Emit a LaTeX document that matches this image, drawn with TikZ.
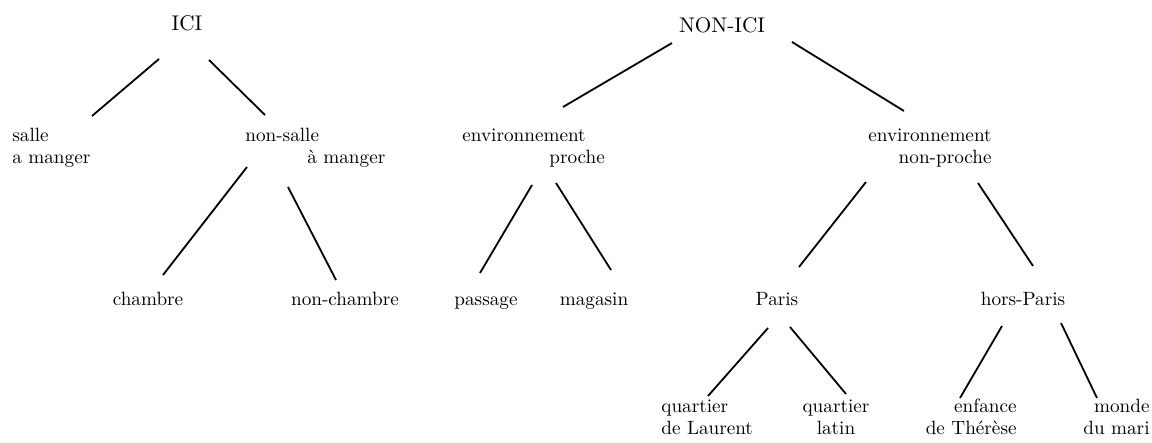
\documentclass[tikz,border=0pt]{standalone}
\usepackage{fontspec}
\usepackage{tikz}
\usetikzlibrary{calc}

\begin{document}
\begin{tikzpicture}[x=0.5pt,y=-0.5pt]
\tikzstyle{rootnode}=[inner sep=0pt,font=\fontsize{10.6}{12}\selectfont]
\tikzstyle{catnode}=[inner sep=0pt,font=\fontsize{9.6}{11}\selectfont]
\tikzstyle{branch}=[line width=0.9pt]
\useasboundingbox (0,0) rectangle (1152,443);
% roots
\node[rootnode,anchor=base] (ici) at (187,31) {ICI};
\node[rootnode,anchor=base] (nonici) at (722,33) {NON-ICI};
% second level (base = last line)
\node[catnode,anchor=base west,align=left] (salle) at (12,164) {salle\\a manger};
\node[catnode,anchor=base west,align=left] (nonsalle) at (245,164) {non-salle\\\hspace*{31pt}à manger};
\node[catnode,anchor=base west,align=left] (envp) at (462,164) {environnement\\\hspace*{43.5pt}proche};
\node[catnode,anchor=base east,align=right] (envnp) at (992,164) {environnement\\non-proche};
% third level
\node[catnode,anchor=base] (chambre) at (148,306) {chambre};
\node[catnode,anchor=base] (nonchambre) at (345,306) {non-chambre};
\node[catnode,anchor=base] (passage) at (486,306) {passage};
\node[catnode,anchor=base] (magasin) at (594,306) {magasin};
\node[catnode,anchor=base] (paris) at (777,306) {Paris};
\node[catnode,anchor=base] (horsparis) at (1023,306) {hors-Paris};
% fourth level
\node[catnode,anchor=base west,align=left] (qlaurent) at (661,435) {quartier\\de Laurent};
\node[catnode,anchor=base,align=center] (qlatin) at (836,435) {quartier\\latin};
\node[catnode,anchor=base east,align=right] (enfance) at (1017,435) {enfance\\de Thérèse};
\node[catnode,anchor=base east,align=right] (monde) at (1150,435) {monde\\du mari};
% branches
\draw[branch] ($(ici.base)+(-28,28)$) -- ($(salle.base west)+(80,-48)$);
\draw[branch] ($(ici.base)+(22,29)$) -- ($(nonsalle.base west)+(20,-49)$);
\draw[branch] ($(nonsalle.base west)+(2,3)$) -- ($(chambre.base)+(15,-31)$);
\draw[branch] ($(nonsalle.base west)+(43,23)$) -- ($(nonchambre.base)+(-9,-26)$);
\draw[branch] ($(nonici.base)+(-50,10)$) -- ($(envp.base west)+(101,-57)$);
\draw[branch] ($(nonici.base)+(70,9)$) -- ($(envnp.base east)+(-88,-53)$);
\draw[branch] ($(envp.base west)+(70,21)$) -- ($(passage.base)+(-6,-33)$);
\draw[branch] ($(envp.base west)+(94,19)$) -- ($(magasin.base)+(17,-36)$);
\draw[branch] ($(envnp.base east)+(-126,18)$) -- ($(paris.base)+(22,-39)$);
\draw[branch] ($(envnp.base east)+(-14,19)$) -- ($(horsparis.base)+(10,-40)$);
\draw[branch] ($(paris.base)+(-9,22)$) -- ($(qlaurent.base west)+(47,-39)$);
\draw[branch] ($(paris.base)+(13,21)$) -- ($(qlatin.base)+(10,-41)$);
\draw[branch] ($(horsparis.base)+(-21,20)$) -- ($(enfance.base east)+(-57,-37)$);
\draw[branch] ($(horsparis.base)+(38,17)$) -- ($(monde.base east)+(-53,-37)$);
\end{tikzpicture}
\end{document}
